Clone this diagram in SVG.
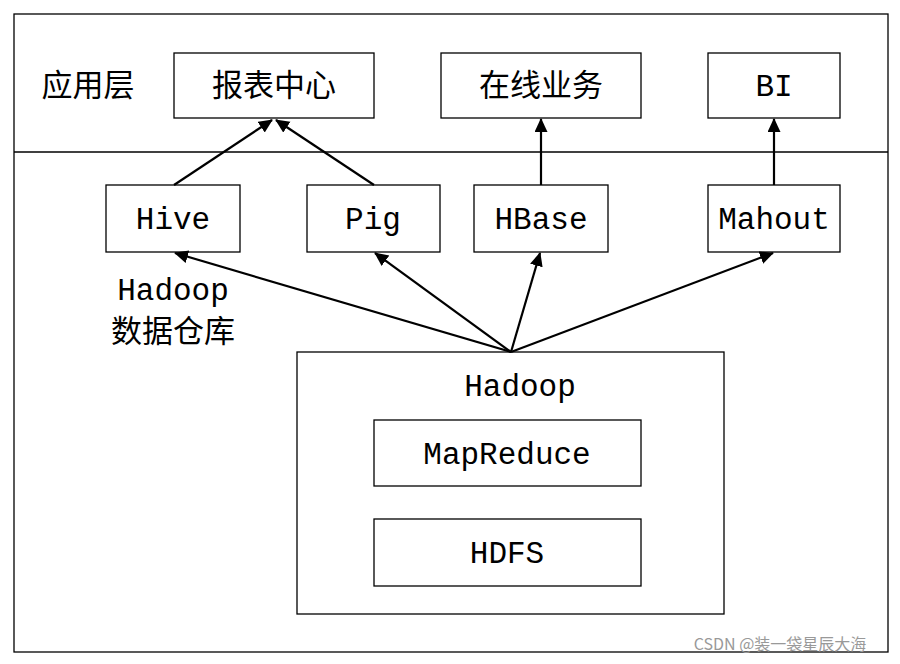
<svg xmlns="http://www.w3.org/2000/svg" width="900" height="664" viewBox="0 0 900 664">
<style>
.b{fill:#fff;stroke:#000;stroke-width:1.3}
.t{font-family:"Liberation Mono","Noto Sans CJK SC",monospace;font-size:31px;fill:#000;text-anchor:middle}
.c{stroke:#000;stroke-width:2.2;fill:none;marker-end:url(#a)}
</style>
<defs><marker id="a" markerWidth="14" markerHeight="14" refX="13" refY="6.5" orient="auto" markerUnits="userSpaceOnUse"><path d="M0,0L14,6.5L0,13z" fill="#000"/></marker></defs>
<rect width="900" height="664" fill="#fff"/>
<rect x="14" y="14" width="874" height="638" fill="none" stroke="#000" stroke-width="1.3"/>
<line x1="14" y1="152" x2="888" y2="152" stroke="#000" stroke-width="1.3"/>
<text class="t" x="88" y="96">应用层</text>
<g id="report"><rect class="b" x="174" y="53" width="200" height="65"/><text class="t" x="274" y="96">报表中心</text></g>
<g id="online"><rect class="b" x="441" y="53" width="200" height="65"/><text class="t" x="541" y="96">在线业务</text></g>
<g id="bi"><rect class="b" x="708" y="53" width="132" height="65"/><text class="t" x="774" y="96">BI</text></g>
<g id="hive"><rect class="b" x="106" y="185" width="134" height="67"/><text class="t" x="173" y="229">Hive</text></g>
<g id="pig"><rect class="b" x="307" y="185" width="133" height="67"/><text class="t" x="373" y="229">Pig</text></g>
<g id="hbase"><rect class="b" x="474" y="185" width="134" height="67"/><text class="t" x="541" y="229">HBase</text></g>
<g id="mahout"><rect class="b" x="708" y="185" width="132" height="67"/><text class="t" x="774" y="229">Mahout</text></g>
<g id="dw"><text class="t" x="173" y="300">Hadoop</text><text class="t" x="173" y="342">数据仓库</text></g>
<g id="hadoop"><rect class="b" x="297" y="352" width="427" height="262"/><text class="t" x="520" y="396">Hadoop</text>
<rect class="b" x="374" y="420" width="267" height="66"/><text class="t" x="507" y="464">MapReduce</text>
<rect class="b" x="374" y="519" width="267" height="67"/><text class="t" x="507" y="563">HDFS</text></g>
<g id="connectors">
<line class="c" x1="174" y1="185" x2="272" y2="120"/>
<line class="c" x1="374" y1="185" x2="276" y2="120"/>
<line class="c" x1="541" y1="185" x2="541" y2="119"/>
<line class="c" x1="774" y1="185" x2="774" y2="119"/>
<line class="c" x1="511" y1="352" x2="175" y2="253"/>
<line class="c" x1="511" y1="352" x2="375" y2="253"/>
<line class="c" x1="511" y1="352" x2="540" y2="253"/>
<line class="c" x1="511" y1="352" x2="773" y2="253"/>
</g>
<text x="780" y="650" font-family="Noto Sans CJK SC, sans-serif" font-size="16" fill="#999" text-anchor="middle">CSDN @装一袋星辰大海</text>
</svg>
